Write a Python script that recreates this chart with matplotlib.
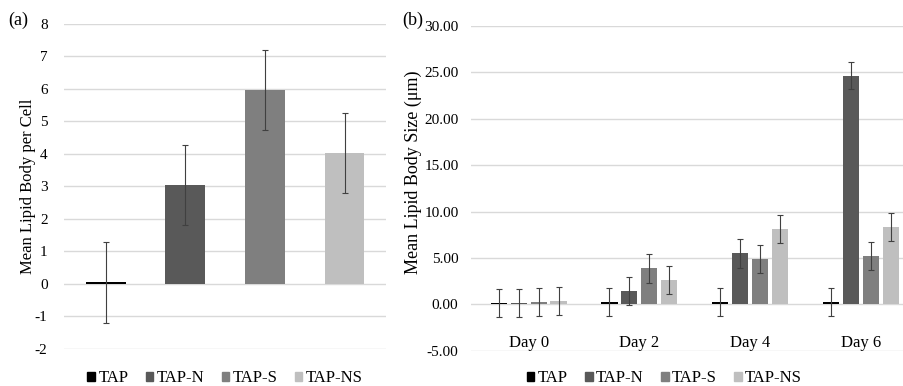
import numpy as np
import matplotlib
matplotlib.use('Agg')
import matplotlib.pyplot as plt
from matplotlib.patches import Patch

plt.rcParams['font.family'] = ['Liberation Serif', 'DejaVu Serif']
plt.rcParams['axes.unicode_minus'] = False

# Panel (a) data
groups = ['TAP', 'TAP-N', 'TAP-S', 'TAP-NS']
count_mean = [0.05, 3.05, 5.96, 4.03]
count_err = [1.24, 1.23, 1.23, 1.23]

# Panel (b) data
days = ['Day 0', 'Day 2', 'Day 4', 'Day 6']
size_tap = [0.15, 0.3, 0.3, 0.3]
size_tapn = [0.2, 1.45, 5.5, 24.65]
size_taps = [0.25, 3.9, 4.9, 5.2]
size_tapns = [0.4, 2.6, 8.1, 8.3]
size_err_tap = [1.5, 1.5, 1.5, 1.5]
size_err_tapn = [1.5, 1.5, 1.55, 1.5]
size_err_taps = [1.5, 1.55, 1.5, 1.5]
size_err_tapns = [1.5, 1.5, 1.5, 1.5]

colors = ['#000000', '#595959', '#7f7f7f', '#bfbfbf']
grid_col = '#d9d9d9'
err_kw = dict(ecolor='#404040', elinewidth=0.8, capsize=2.5, capthick=0.8)
leg_kw = dict(loc='center', ncol=4, frameon=False, fontsize=12, handlelength=0.45,
              handleheight=0.45, handletextpad=0.2, columnspacing=1.05)

fig = plt.figure(figsize=(9.04, 3.86), dpi=100)

# ---------------- (a) ----------------
ax1 = fig.add_axes([0.071, 0.096, 0.356, 0.842])
x = np.arange(len(groups))
ax1.bar(x, count_mean, width=0.5, color=colors, yerr=count_err, error_kw=err_kw, zorder=3)
ax1.set_ylim(-2, 8)
ax1.set_xlim(-0.52, 3.52)
ax1.set_yticks(range(-2, 9))
ax1.set_xticks([])
ax1.yaxis.grid(True, color=grid_col, linewidth=1)
ax1.set_axisbelow(True)
for s in ax1.spines.values():
    s.set_visible(False)
ax1.tick_params(axis='y', length=0, pad=12, labelsize=11)
ax1.set_ylabel('Mean Lipid Body per Cell', fontsize=12)
ax1.yaxis.set_label_coords(-0.088, 0.5)
fig.text(0.009, 0.948, '(a)', fontsize=13, va='center')

handles = [Patch(color=c, label=g) for c, g in zip(colors, groups)]
fig.legend(handles=handles, bbox_to_anchor=(0.249, 0.02), **leg_kw)

# ---------------- (b) ----------------
ax2 = fig.add_axes([0.521, 0.091, 0.478, 0.842])
xd = np.arange(len(days))
series = [size_tap, size_tapn, size_taps, size_tapns]
errs = [size_err_tap, size_err_tapn, size_err_taps, size_err_tapns]
step = 0.18
for i, (vals, e) in enumerate(zip(series, errs)):
    ax2.bar(xd + (i - 1.5) * step, vals, width=0.145, color=colors[i],
            yerr=e, error_kw=err_kw, zorder=3)
ax2.set_ylim(-5, 30)
ax2.set_xlim(-0.52, 3.38)
ax2.set_yticks(range(-5, 31, 5))
ax2.set_yticklabels(['%.2f' % v for v in range(-5, 31, 5)])
ax2.set_xticks([])
ax2.yaxis.grid(True, color=grid_col, linewidth=1)
ax2.set_axisbelow(True)
for s in ax2.spines.values():
    s.set_visible(False)
ax2.tick_params(axis='y', length=0, pad=9, labelsize=11)
ax2.set_ylabel('Mean Lipid Body Size (\u03bcm)', fontsize=13)
ax2.yaxis.set_label_coords(-0.113, 0.55)
for xi, d in zip(xd, days):
    ax2.text(xi, -4.2, d, ha='center', va='center', fontsize=12)
fig.text(0.445, 0.948, '(b)', fontsize=13, va='center')

fig.legend(handles=handles, bbox_to_anchor=(0.735, 0.02), **leg_kw)

fig.savefig('out.png', dpi=100)
